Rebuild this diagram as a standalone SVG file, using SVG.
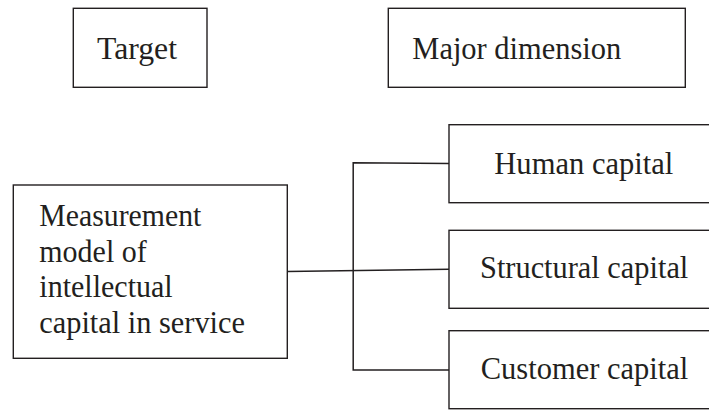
<svg xmlns="http://www.w3.org/2000/svg" width="709" height="410" viewBox="0 0 709 410">
<style>
.box{fill:#fff;stroke:#231f20;stroke-width:1.4}
.t{font-family:"Liberation Serif","Times New Roman",serif;font-size:32px;fill:#231f20}
.c{fill:none;stroke:#231f20;stroke-width:1.5}
</style>
<rect width="709" height="410" fill="#fff"/>
<g id="target">
<rect class="box" x="73.3" y="8.3" width="133.7" height="79"/>
<text class="t" x="97" y="59" textLength="80" lengthAdjust="spacingAndGlyphs">Target</text>
</g>
<g id="major-dimension">
<rect class="box" x="388.3" y="8.3" width="297" height="79"/>
<text class="t" x="412.3" y="59.3" textLength="209" lengthAdjust="spacingAndGlyphs">Major dimension</text>
</g>
<g id="measurement-model">
<rect class="box" x="13.3" y="185" width="274" height="173.3"/>
<text class="t" x="39.3" y="226" textLength="162" lengthAdjust="spacingAndGlyphs">Measurement</text>
<text class="t" x="39.3" y="261.7" textLength="107.4" lengthAdjust="spacingAndGlyphs">model of</text>
<text class="t" x="39.3" y="297.3" textLength="133.4" lengthAdjust="spacingAndGlyphs">intellectual</text>
<text class="t" x="39.3" y="332.7" textLength="205.7" lengthAdjust="spacingAndGlyphs">capital in service</text>
</g>
<g id="human-capital">
<rect class="box" x="449" y="124.7" width="270" height="78"/>
<text class="t" x="494.3" y="174" textLength="179" lengthAdjust="spacingAndGlyphs">Human capital</text>
</g>
<g id="structural-capital">
<rect class="box" x="449" y="230.3" width="270" height="78"/>
<text class="t" x="480" y="278.3" textLength="208.3" lengthAdjust="spacingAndGlyphs">Structural capital</text>
</g>
<g id="customer-capital">
<rect class="box" x="449" y="330.7" width="270" height="78"/>
<text class="t" x="480.7" y="379.3" textLength="207.6" lengthAdjust="spacingAndGlyphs">Customer capital</text>
</g>
<g id="connectors">
<line class="c" x1="287.3" y1="271.6" x2="449" y2="269.2"/>
<polyline class="c" points="449,163.6 353.2,162.7 353.2,370 449,370"/>
</g>
</svg>
